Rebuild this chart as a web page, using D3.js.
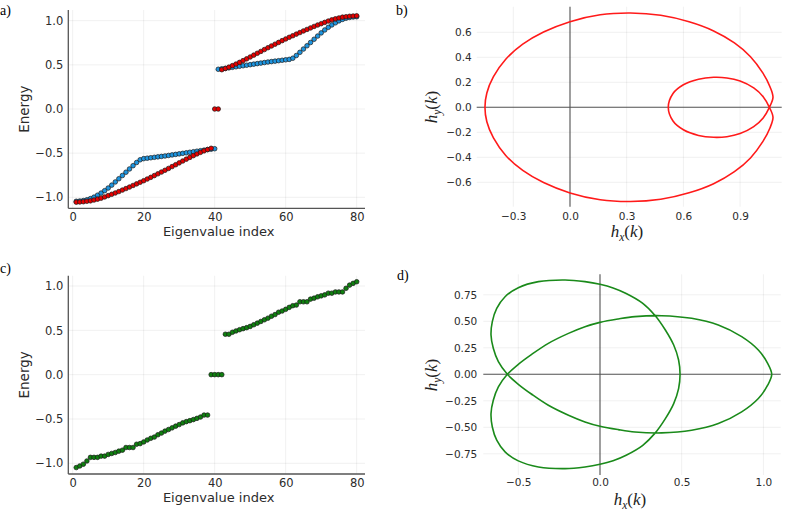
<!DOCTYPE html>
<html>
<head>
<meta charset="utf-8">
<script src="https://d3js.org/d3.v7.min.js"></script>
<style>
  body { margin: 0; background: #fff; }
  svg text { font-family: "DejaVu Sans", sans-serif; }
  .serif { font-family: "Liberation Serif", "DejaVu Serif", serif; }
</style>
</head>
<body>
<div id="chart"></div>
<script>
// eigenvalue index 1..80
const eigIndex = d3.range(1, 81);

// panel a) two spectra
const energyBlue = [
  -1.045, -1.042, -1.037, -1.028, -1.015, -0.998, -0.976, -0.952, -0.925, -0.895,
  -0.862, -0.826, -0.790, -0.753, -0.716, -0.679, -0.642, -0.606, -0.575, -0.562,
  -0.557, -0.552, -0.547, -0.542, -0.537, -0.532, -0.526, -0.520, -0.514, -0.508,
  -0.502, -0.496, -0.490, -0.484, -0.478, -0.472, -0.466, -0.460, -0.455, -0.450,
  0.450, 0.455, 0.460, 0.466, 0.472, 0.478, 0.484, 0.490, 0.496, 0.502,
  0.508, 0.514, 0.520, 0.526, 0.532, 0.537, 0.542, 0.547, 0.552, 0.557,
  0.562, 0.575, 0.606, 0.642, 0.679, 0.716, 0.753, 0.790, 0.826, 0.862,
  0.895, 0.925, 0.952, 0.976, 0.998, 1.015, 1.028, 1.037, 1.042, 1.045
];
const energyRed = [
  -1.055, -1.053, -1.050, -1.045, -1.040, -1.031, -1.021, -1.010, -0.996, -0.981,
  -0.966, -0.951, -0.935, -0.918, -0.901, -0.884, -0.866, -0.848, -0.830, -0.812,
  -0.793, -0.774, -0.754, -0.734, -0.714, -0.694, -0.673, -0.652, -0.631, -0.610,
  -0.589, -0.568, -0.548, -0.528, -0.509, -0.491, -0.474, -0.459, -0.445, 0.000,
  0.000, 0.445, 0.459, 0.474, 0.491, 0.509, 0.528, 0.548, 0.568, 0.589,
  0.610, 0.631, 0.652, 0.673, 0.694, 0.714, 0.734, 0.754, 0.774, 0.793,
  0.812, 0.830, 0.848, 0.866, 0.884, 0.901, 0.918, 0.935, 0.951, 0.966,
  0.981, 0.996, 1.010, 1.021, 1.031, 1.040, 1.045, 1.050, 1.053, 1.055
];
// panel c) spectrum
const energyGreen = [
  -1.048, -1.030, -1.010, -0.974, -0.933, -0.933, -0.933, -0.919, -0.919, -0.900,
  -0.889, -0.878, -0.863, -0.852, -0.822, -0.822, -0.822, -0.785, -0.778, -0.759,
  -0.737, -0.718, -0.704, -0.678, -0.659, -0.637, -0.619, -0.600, -0.581, -0.563,
  -0.544, -0.530, -0.519, -0.507, -0.493, -0.478, -0.456, -0.456, 0.000, 0.000,
  0.000, 0.000, 0.456, 0.456, 0.478, 0.493, 0.507, 0.519, 0.530, 0.544,
  0.563, 0.581, 0.600, 0.619, 0.637, 0.659, 0.678, 0.704, 0.718, 0.737,
  0.759, 0.778, 0.785, 0.822, 0.822, 0.822, 0.852, 0.863, 0.878, 0.889,
  0.900, 0.919, 0.919, 0.933, 0.933, 0.933, 0.974, 1.010, 1.030, 1.048
];

// panel b) curve h(k), traced in order (outer top -> inner loop -> outer bottom)
const bHx = [
  -0.450, -0.440, -0.405, -0.340, -0.250, -0.140, 0.000, 0.160, 0.320, 0.480, 0.630, 0.760, 0.870, 0.955, 1.020, 1.058, 1.074, 1.055,
  1.022, 0.972, 0.900, 0.830, 0.760, 0.680, 0.600, 0.545, 0.520, 0.545, 0.600, 0.680, 0.760, 0.830, 0.900, 0.972, 1.022, 1.055,
  1.074, 1.058, 1.020, 0.955, 0.870, 0.760, 0.630, 0.480, 0.320, 0.160, 0.000, -0.140, -0.250, -0.340, -0.405, -0.440
];
const bHy = [
  0.000, 0.115, 0.245, 0.385, 0.505, 0.602, 0.685, 0.740, 0.754, 0.736, 0.684, 0.611, 0.515, 0.405, 0.275, 0.165, 0.080, 0.000,
  -0.085, -0.155, -0.210, -0.235, -0.240, -0.225, -0.180, -0.110, 0.000, 0.110, 0.180, 0.225, 0.240, 0.235, 0.210, 0.155, 0.085, 0.000,
  -0.080, -0.165, -0.275, -0.405, -0.515, -0.611, -0.684, -0.736, -0.754, -0.740, -0.685, -0.602, -0.505, -0.385, -0.245, -0.115
];

// panel d) curve h(k), traced in order
const dHx = [
  1.051, 1.026, 0.969, 0.867, 0.724, 0.561, 0.377, 0.214, 0.112, 0.000, -0.092, -0.193, -0.316, -0.418, -0.500, -0.567,
  -0.622, -0.653, -0.667, -0.659, -0.632, -0.581, -0.500, -0.377, -0.214, -0.092, 0.000, 0.080, 0.160, 0.260, 0.337, 0.400, 0.451, 0.481, 0.490,
  0.481, 0.451, 0.400, 0.337, 0.260, 0.160, 0.080, 0.000, -0.092, -0.214, -0.377, -0.500, -0.581, -0.632, -0.659, -0.667, -0.653, -0.622, -0.567,
  -0.500, -0.418, -0.316, -0.193, -0.092, 0.000, 0.112, 0.214, 0.377, 0.561, 0.724, 0.867, 0.969, 1.026
];
const dHy = [
  0.000, 0.103, 0.229, 0.355, 0.465, 0.528, 0.553, 0.544, 0.522, 0.490, 0.449, 0.386, 0.292, 0.188, 0.094, 0.000,
  -0.119, -0.245, -0.371, -0.497, -0.622, -0.732, -0.817, -0.874, -0.890, -0.874, -0.849, -0.815, -0.763, -0.672, -0.555, -0.418, -0.276, -0.135, 0.000,
  0.135, 0.276, 0.418, 0.555, 0.672, 0.763, 0.815, 0.849, 0.874, 0.890, 0.874, 0.817, 0.732, 0.622, 0.497, 0.371, 0.245, 0.119, 0.000,
  -0.094, -0.188, -0.292, -0.386, -0.449, -0.490, -0.522, -0.544, -0.553, -0.528, -0.465, -0.355, -0.229, -0.103
];

// tick values
const specXTicks = [0, 20, 40, 60, 80];
const specYTicks = [-1, -0.5, 0, 0.5, 1];
const bXTicks = [-0.3, 0, 0.3, 0.6, 0.9];
const bYTicks = [-0.6, -0.4, -0.2, 0, 0.2, 0.4, 0.6];
const dXTicks = [-0.5, 0, 0.5, 1.0];
const dYTicks = [-0.75, -0.5, -0.25, 0, 0.25, 0.5, 0.75];

const minus = s => s.replace("-", "\u2212");

const svg = d3.select("#chart").append("svg")
  .attr("width", 789).attr("height", 511);

function grid(g, x, y, box, xt, yt) {
  g.selectAll(".vg").data(xt).join("line")
    .attr("x1", d => x(d)).attr("x2", d => x(d))
    .attr("y1", box.y0).attr("y2", box.y1)
    .attr("stroke", "#000").attr("stroke-opacity", 0.08).attr("stroke-width", 0.8);
  g.selectAll(".hg").data(yt).join("line")
    .attr("x1", box.x0).attr("x2", box.x1)
    .attr("y1", d => y(d)).attr("y2", d => y(d))
    .attr("stroke", "#000").attr("stroke-opacity", 0.08).attr("stroke-width", 0.8);
}

function tickAxes(g, x, y, box, xt, yt, fmtX, fmtY, padX, padY, fs) {
  const ax = g.append("g").attr("transform", `translate(0,${box.y1})`)
    .call(d3.axisBottom(x).tickValues(xt).tickSize(0).tickPadding(padX).tickFormat(fmtX));
  const ay = g.append("g").attr("transform", `translate(${box.x0},0)`)
    .call(d3.axisLeft(y).tickValues(yt).tickSize(0).tickPadding(padY).tickFormat(fmtY));
  [ax, ay].forEach(a => {
    a.select(".domain").remove();
    a.selectAll("text").attr("font-size", fs).attr("fill", "#2b2b2b")
      .style("font-family", '"DejaVu Sans", sans-serif');
  });
}

function spectrumPanel(opt) {
  const g = svg.append("g");
  const box = opt.box;
  const x = d3.scaleLinear().domain([0, 80]).range([72.7, 356.7]);
  const y = d3.scaleLinear().domain([-1, 1]).range(opt.yRange);
  grid(g, x, y, box, specXTicks, specYTicks);
  // spines
  g.append("line").attr("x1", box.x0).attr("x2", box.x0).attr("y1", box.y0).attr("y2", box.y1)
    .attr("stroke", "#555").attr("stroke-width", 1.3);
  g.append("line").attr("x1", box.x0).attr("x2", box.x1).attr("y1", box.y1).attr("y2", box.y1)
    .attr("stroke", "#555").attr("stroke-width", 1.3);
  tickAxes(g, x, y, box, specXTicks, specYTicks, d => d, d => minus(d3.format(".1f")(d)), 5, 5, 11.5);

  opt.series.forEach(s => {
    g.append("g").selectAll("circle")
      .data(eigIndex.map((k, i) => [k, s.vals[i]]))
      .join("circle")
        .attr("cx", d => x(d[0]))
        .attr("cy", d => y(d[1]))
        .attr("r", 2.3)
        .attr("fill", s.color)
        .attr("stroke", "#1a1a1a")
        .attr("stroke-width", 0.7);
  });

  g.append("text").attr("x", (box.x0 + box.x1) / 2 + 2).attr("y", box.y1 + 28)
    .attr("text-anchor", "middle").attr("font-size", 13).attr("fill", "#2b2b2b")
    .text("Eigenvalue index");
  g.append("text")
    .attr("transform", `translate(29,${(box.y0 + box.y1) / 2}) rotate(-90)`)
    .attr("text-anchor", "middle").attr("font-size", 13.5).attr("fill", "#2b2b2b")
    .text("Energy");
  g.append("text").attr("class", "serif").attr("x", 0).attr("y", opt.labelY)
    .attr("font-size", 14).text(opt.label);
}

function hLabel(sel, sub) {
  sel.attr("class", "serif").attr("font-size", 17).attr("fill", "#222");
  sel.append("tspan").attr("font-style", "italic").text("h");
  sel.append("tspan").attr("font-style", "italic").attr("font-size", 11.5).attr("dy", 4).text(sub);
  sel.append("tspan").attr("dy", -4).text("(");
  sel.append("tspan").attr("font-style", "italic").text("k");
  sel.append("tspan").text(")");
}

function curvePanel(opt) {
  const g = svg.append("g");
  const box = opt.box;
  const x = d3.scaleLinear().domain([0, opt.xUnit[0]]).range([opt.origin[0], opt.xUnit[1]]);
  const y = d3.scaleLinear().domain([0, opt.yUnit[0]]).range([opt.origin[1], opt.yUnit[1]]);
  grid(g, x, y, box, opt.xTicks, opt.yTicks);
  // axes through the origin
  g.append("line").attr("x1", x(0)).attr("x2", x(0)).attr("y1", box.y0).attr("y2", box.y1)
    .attr("stroke", "#555").attr("stroke-width", 1.1);
  g.append("line").attr("x1", box.x0).attr("x2", box.x1).attr("y1", y(0)).attr("y2", y(0))
    .attr("stroke", "#555").attr("stroke-width", 1.1);
  tickAxes(g, x, y, box, opt.xTicks, opt.yTicks,
    d => minus(d3.format(opt.xFmt)(d)), d => minus(d3.format(opt.yFmt)(d)), opt.padX, opt.padY, 10.5);

  const pts = opt.hx.map((v, i) => [v, opt.hy[i]]);
  g.append("path")
    .datum(pts)
    .attr("d", d3.line().x(d => x(d[0])).y(d => y(d[1])).curve(d3.curveCatmullRomClosed.alpha(0.5)))
    .attr("fill", "none")
    .attr("stroke", opt.color)
    .attr("stroke-width", 1.6);

  hLabel(g.append("text").attr("x", opt.xLab[0]).attr("y", opt.xLab[1]).attr("text-anchor", "middle"), "x");
  hLabel(g.append("text").attr("text-anchor", "middle")
    .attr("transform", `translate(${opt.yLab[0]},${opt.yLab[1]}) rotate(-90)`), "y");
  g.append("text").attr("class", "serif").attr("x", opt.label[1]).attr("y", opt.label[2])
    .attr("font-size", 14).text(opt.label[0]);
}

spectrumPanel({
  box: {x0: 68.3, x1: 365, y0: 10, y1: 208.3},
  yRange: [197.3, 20.7],
  series: [{vals: energyBlue, color: "#1d95e0"}, {vals: energyRed, color: "#e60000"}],
  label: "a)", labelY: 15
});
spectrumPanel({
  box: {x0: 68.3, x1: 365, y0: 275.7, y1: 474},
  yRange: [463.3, 286],
  series: [{vals: energyGreen, color: "#0f800f"}],
  label: "c)", labelY: 273
});

curvePanel({
  box: {x0: 476.7, x1: 781.7, y0: 6.7, y1: 206.7},
  origin: [570, 107.3], xUnit: [0.9, 740.1], yUnit: [0.6, 32.3],
  xTicks: bXTicks, yTicks: bYTicks, xFmt: ".1f", yFmt: ".1f",
  padX: 6, padY: 5,
  hx: bHx, hy: bHy, color: "#ff1a1a",
  xLab: [627, 236.5], yLab: [437, 107],
  label: ["b)", 396, 15]
});
curvePanel({
  box: {x0: 483.3, x1: 780.7, y0: 274.3, y1: 475},
  origin: [600, 374.3], xUnit: [1.0, 763.4], yUnit: [0.75, 294.8],
  xTicks: dXTicks, yTicks: dYTicks, xFmt: ".1f", yFmt: ".2f",
  padX: 4, padY: 6,
  hx: dHx, hy: dHy, color: "#1a8a1a",
  xLab: [630, 504.5], yLab: [437, 375],
  label: ["d)", 397, 280]
});
</script>
</body>
</html>
